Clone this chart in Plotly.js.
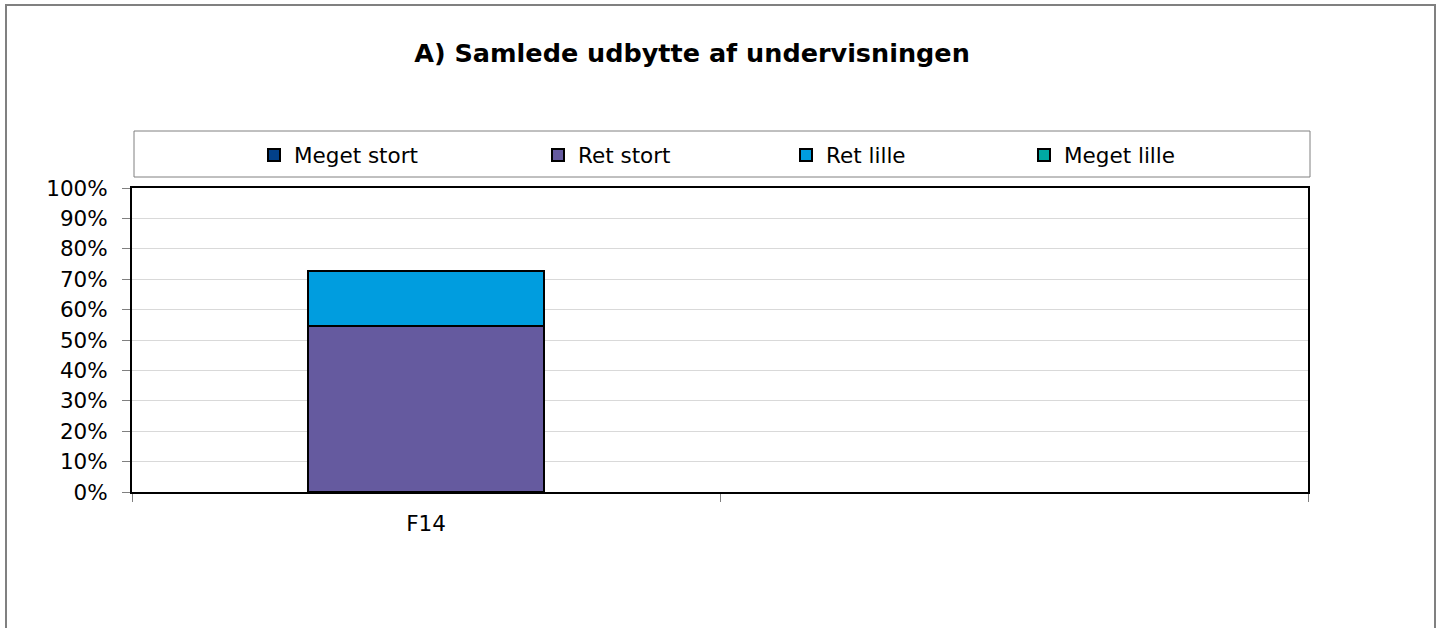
<!DOCTYPE html>
<html>
<head>
<meta charset="utf-8">
<script src="https://cdn.plot.ly/plotly-3.0.1.min.js"></script>
<style>html,body{margin:0;padding:0;background:#fff;}#chart{width:1441px;height:628px;}</style>
</head>
<body>
<div id="chart"></div>
<script>
const categories = ['F14', ' '];
const seriesNames = ['Meget stort', 'Ret stort', 'Ret lille', 'Meget lille'];
const megetStort = [0, null];
const retStort = [0.545, null];
const retLille = [0.182, null];
const megetLille = [0, null];
const yTickVals = [0, 0.1, 0.2, 0.3, 0.4, 0.5, 0.6, 0.7, 0.8, 0.9, 1.0];
const yTickText = ['0%', '10%', '20%', '30%', '40%', '50%', '60%', '70%', '80%', '90%', '100%'];
const titleText = 'A) Samlede udbytte af undervisningen';

const colors = ['#024089', '#655a9f', '#009ddf', '#00a8a2'];
const values = [megetStort, retStort, retLille, megetLille];
const legendIds = ['legend', 'legend2', 'legend3', 'legend4'];
const FONT = 'DejaVu Sans, sans-serif';

const W = 1441, H = 628;
const L = 132, R = 1308, T = 188, B = 492;
const px2x = p => (p - L) / (R - L);
const py2y = p => (B - p) / (B - T);

const traces = seriesNames.map((n, i) => ({
  type: 'bar',
  name: n,
  x: categories,
  y: values[i],
  width: 0.4,
  marker: {color: colors[i], line: {color: '#000', width: 2}},
  legend: legendIds[i],
  hoverinfo: 'skip'
}));

const legendLefts = [254, 538, 786, 1024];
const layout = {
  width: W, height: H,
  margin: {l: L, r: W - R, t: T, b: H - B},
  paper_bgcolor: '#fff', plot_bgcolor: '#fff',
  barmode: 'stack',
  font: {family: FONT, size: 21.5, color: '#000'},
  title: {text: titleText, x: 692 / W, xref: 'container', xanchor: 'center',
          y: 1 - 53 / H, yref: 'container', yanchor: 'middle',
          font: {family: FONT, size: 25.5, color: '#000', weight: 'bold'}},
  xaxis: {type: 'category', categoryorder: 'array', categoryarray: categories,
          range: [-0.5, 1.5], tickson: 'boundaries', ticks: 'outside', ticklen: 8,
          tickcolor: '#808080', tickwidth: 1, showline: true, linecolor: '#000', linewidth: 2,
          mirror: true, showgrid: false, zeroline: false, ticklabelstandoff: 11,
          tickfont: {family: FONT, size: 21.5, color: '#000'}, fixedrange: true},
  yaxis: {range: [0, 1], tickvals: yTickVals, ticktext: yTickText, ticks: 'outside', ticklen: 8,
          tickcolor: '#808080', tickwidth: 1, showline: true, linecolor: '#000', linewidth: 2,
          mirror: true, showgrid: true, gridcolor: '#d9d9d9', gridwidth: 1, zeroline: false,
          ticklabelstandoff: 10, tickfont: {family: FONT, size: 21.5, color: '#000'}, fixedrange: true},
  showlegend: true,
  shapes: [
    {type: 'rect', xref: 'paper', yref: 'paper', x0: px2x(134), x1: px2x(1310), y0: py2y(177), y1: py2y(131),
     line: {color: '#808080', width: 1}, fillcolor: 'rgba(0,0,0,0)', layer: 'below'},
    {type: 'rect', xref: 'paper', yref: 'paper', x0: px2x(6), x1: px2x(1435), y0: py2y(720), y1: py2y(5),
     line: {color: '#808080', width: 2}, fillcolor: 'rgba(0,0,0,0)', layer: 'below'}
  ]
};
legendIds.forEach((id, i) => {
  layout[id] = {x: px2x(legendLefts[i]), xanchor: 'left', y: py2y(155), yanchor: 'middle',
    orientation: 'h', bgcolor: 'rgba(0,0,0,0)', borderwidth: 0,
    font: {family: FONT, size: 21.5, color: '#000'}, itemclick: false, itemdoubleclick: false};
});

Plotly.newPlot('chart', traces, layout, {displayModeBar: false, staticPlot: true});
</script>
</body>
</html>
